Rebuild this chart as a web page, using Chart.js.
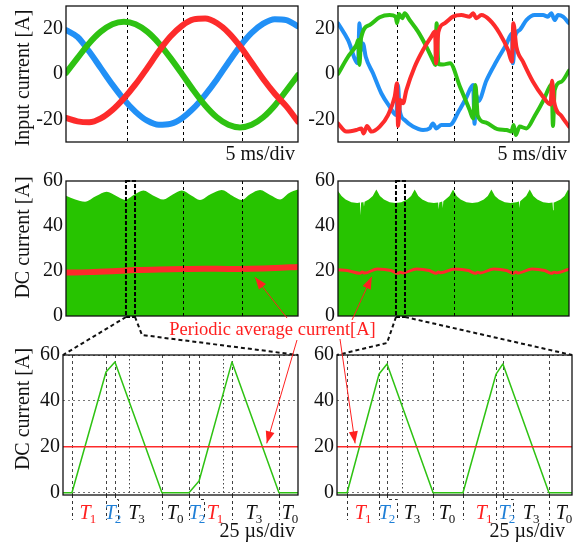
<!DOCTYPE html>
<html>
<head>
<meta charset="utf-8">
<script src="https://cdn.jsdelivr.net/npm/chart.js@4.4.1/dist/chart.umd.min.js"></script>
<style>
html,body{margin:0;padding:0;background:#fff}
body{position:relative;width:576px;height:544px;overflow:hidden}
.cell{position:absolute}
.cell canvas{display:block}
#over{position:absolute;left:0;top:0}
</style>
</head>
<body>
<div class="cell" style="left:0;top:-10px"><canvas id="tl" width="300" height="180"></canvas></div>
<div class="cell" style="left:300px;top:-10px"><canvas id="tr" width="276" height="180"></canvas></div>
<div class="cell" style="left:0;top:165px"><canvas id="ml" width="300" height="175"></canvas></div>
<div class="cell" style="left:300px;top:165px"><canvas id="mr" width="276" height="175"></canvas></div>
<div class="cell" style="left:0;top:339px"><canvas id="bl" width="300" height="205"></canvas></div>
<div class="cell" style="left:300px;top:339px"><canvas id="br" width="276" height="205"></canvas></div>
<canvas id="over" width="576" height="544"></canvas>
<script>
// ---- input currents, left (ms / A) ----
const tlTime  = [0,1,2,3,4,5,6,7,8,9,10,11,12,13,14,15,16,17,18,19,20];
const tlRed   = [-19.4,-20.9,-21.3,-19.6,-15.9,-10.7,-4.5,2.6,10.0,16.5,21.3,24.1,24.5,22.5,18.3,12.3,5.1,-2.2,-8.7,-14.3,-21.0];
const tlGreen = [0.5,7.1,13.6,18.7,22.0,23.1,22.0,18.7,13.6,7.1,0,-7.3,-13.9,-19.1,-22.4,-23.6,-22.4,-19.1,-13.9,-7.3,-0.5];
const tlBlue  = [19.4,16.3,9.9,2.6,-4.7,-11.3,-16.7,-20.6,-22.4,-22.0,-19.5,-15.1,-9.2,-2.4,5.1,12.2,18.1,22.2,24.2,23.8,21.0];
const tlGuides = [5.3, 10.1, 15.2];

// ---- input currents, right ----
const trRedT = [0,0.72,1.59,2.02,2.22,2.51,2.89,3.61,4.33,4.91,5.11,5.2,5.4,5.63,5.92,6.64,7.36,8.08,8.4,8.5,8.69,9.24,9.96,10.68,11.4,11.69,11.98,12.41,13.13,14.0,14.72,15.06,15.18,15.44,16.02,16.88,17.75,18.41,18.53,18.7,19.34,20];
const trRedV = [-21.8,-25.4,-24.7,-24.0,-26.2,-22.9,-25.4,-23.2,-18.1,-10.0,-4.1,-22.9,-11.5,-12.9,-7.1,3.2,10.6,16.5,18.7,4.7,18.5,22.4,25.3,26.0,25.3,26.8,24.6,26.0,23.8,17.9,10.6,5.4,22.4,12.1,5.4,-3.4,-10.0,-13.5,-3.0,-12.0,-18.5,-23.2];
const trGreenT = [0,0.87,1.59,1.76,1.86,1.99,2.74,3.61,4.47,4.99,5.11,5.28,5.57,5.77,6.2,6.93,7.65,8.28,8.43,8.54,8.69,9.09,9.7,10.56,11.4,11.7,11.9,12.1,12.8,13.8,14.6,15.01,15.21,15.38,15.73,16.31,17.03,17.75,18.33,18.5,18.61,18.76,19.34,20];
const trGreenV = [0,7.6,12.8,15.0,4.0,15.7,21.6,25.0,26.0,25.3,22.4,26.5,24.6,26.8,23.8,18.7,12.1,5.4,4.0,22.4,4.4,4.2,4.7,-5.6,-15.9,-19.6,-4.9,-18.4,-21.4,-24.3,-24.7,-25.4,-22.5,-26.9,-23.2,-24.0,-18.5,-12.0,-5.5,-4.5,-22.9,-7.1,-3.4,1.5];
const trBlueT = [0,0.87,1.73,1.86,2.02,2.16,2.4,3.03,3.75,4.47,5.05,5.19,5.34,5.77,6.49,7.36,7.94,8.22,8.51,8.95,9.67,10.5,11.1,11.7,11.82,11.95,12.15,12.84,13.71,14.57,15.06,15.15,15.32,15.73,16.31,17.03,17.75,18.18,18.47,18.76,19.05,19.48,20];
const trBlueV = [22.4,15.0,4.7,22.4,10.6,13.5,7.6,0.3,-8.5,-14.4,-18.1,-4.9,-15.9,-20.3,-23.2,-24.7,-24.0,-21.8,-24.0,-22.5,-22.5,-16.0,-10.5,-4.9,-22.0,-9.0,-12.0,-3.0,5.5,13.0,17.9,4.7,16.5,19.4,23.8,26.0,26.0,25.3,26.8,23.8,26.0,25.3,22.4];
const trGuides = [5.1, 10.0, 15.1];
const topTicks = [-20, 0, 20];

// ---- DC current, middle row (ms / A) ----
const mlEnvT = [0,0.8,1.64,2.6,3.51,4.3,5.09,5.9,6.67,7.5,8.39,9.2,9.97,10.8,11.55,12.5,13.42,14.3,15.15,15.9,16.73,17.6,18.45,19.2,20];
const mlEnvV = [53.5,51.8,50.8,53.3,55.2,53.4,51.6,54.0,55.8,53.6,51.8,54.0,55.8,53.6,51.6,54.2,56.0,53.6,51.6,54.2,56.0,53.8,51.8,54.6,56.2];
const mlAvgT = [0,2,4,6,8,10,12,14,16,18,20];
const mlAvgV = [19.3,19.5,19.9,20.4,20.7,20.9,21.0,20.9,21.0,21.3,21.8];
const mlGuides = [10.1, 15.2];
const mlZoom = [5.17, 5.95];

const mrEnvT = [0,0.31,0.66,1.16,1.66,1.9,1.95,2.0,2.16,2.2,2.25,2.3,2.66,3.01,3.32,3.63,3.98,4.48,4.98,5.48,5.98,6.33,6.64,6.95,7.3,7.8,8.3,8.67,8.72,8.77,9.02,9.07,9.12,9.3,9.65,9.96,10.27,10.62,11.12,11.62,12.12,12.62,12.97,13.28,13.59,13.94,14.44,14.94,15.44,15.67,15.72,15.77,15.94,16.29,16.6,16.91,17.26,17.76,18.26,18.57,18.62,18.67,18.76,19.26,19.61,19.92,20];
const mrEnvV = [55.6,53.3,51.8,50.6,50.2,50.4,44.8,50.4,50.6,50.7,48.6,50.8,51.8,53.3,56.2,53.3,51.8,50.6,50.2,50.6,51.8,53.3,56.2,53.3,51.8,50.6,50.2,50.5,47.5,50.5,50.9,48.0,51.0,51.8,53.3,56.2,53.3,51.8,50.6,50.2,50.6,51.8,53.3,56.2,53.3,51.8,50.6,50.2,50.6,50.9,48.0,51.0,51.8,53.3,56.2,53.3,51.8,50.6,50.2,50.4,47.0,50.5,50.6,51.8,53.3,56.2,55.6];
const mrAvgT = [0,0.8,1.9,2.1,2.3,3.4,4.6,5.2,5.4,5.6,6.8,7.9,8.5,8.7,8.9,10.1,11.3,11.9,12.1,12.3,13.5,14.6,15.2,15.4,15.6,16.8,17.9,18.5,18.7,18.9,20];
const mrAvgV = [20.6,20.2,19.0,19.6,19.1,20.9,20.2,19.0,19.5,19.1,20.9,20.2,19.0,19.6,19.2,20.9,20.2,19.0,19.5,19.1,20.9,20.2,19.0,19.6,19.1,20.9,20.2,19.0,19.5,19.2,20.8];
const mrGuides = [10.0, 15.1];
const mrZoom = [5.02, 5.80];
const midTicks = [0, 20, 40, 60];

// ---- DC current, zoomed (us / A) ----
const blTime = [0,3.8,18.3,22.1,42.1,53.6,57.9,71.9,91.9,100];
const blCurrent = [0,0,52.6,57.0,0,0,5.1,57.0,0,0];
const brTime = [0,4.3,17.9,21.3,40.9,53.6,67.7,70.6,90.2,100];
const brCurrent = [0,0,51.7,56.1,0,0,51.7,56.1,0,0];
const avgTime = [0, 100];
const avgLevel = [20, 20];
const blCuts = [3.8,18.3,42.1,53.6,71.9,91.9];
const blSteps = [[22.1,23.4],[57.9,60.0]];
const blDots = [28.1,68.1];
const brCuts = [4.3,17.9,40.9,53.6,67.7,90.2];
const brSteps = [[21.3,25.5],[70.6,74.9]];
const brDots = [27.7];
const blPhaseAt = [10.6,21.3,31.3,47.7,57.0,64.7,81.2,96.6];
const blPhaseIds = ['1','2','3','0','2','1','3','0'];
const brPhaseAt = [11.1,21.3,31.9,46.8,62.6,72.3,82.6,96.6];
const brPhaseIds = ['1','2','3','0','1','2','3','0'];
const botTicks = [0, 20, 40, 60];

// pointers of the "periodic average" note (data coords of the arrow tips)
const mlPointer = [16.3, 17.2];
const mrPointer = [2.92, 17.4];
const blPointer = [86.7, 21.5];
const brPointer = [7.7, 21.5];

const SERIF = '"Liberation Serif","Times New Roman",serif';
const RED = '#fd2b2b', GREEN = '#2ec212', BLUE = '#2190f6', FILL = '#27c400';
const PHASE_COLOR = {'1': '#ff2020', '2': '#1f7fd6'};

function pts(xs, ys){ return xs.map((x,i)=>({x:x, y:ys[i]})); }

// first dataset in the list ends up on top
function trace(xs, ys, color, width, smooth){
  return {data: pts(xs,ys), borderColor: color, borderWidth: width, pointRadius: 0,
    cubicInterpolationMode: smooth ? 'monotone' : 'default', tension: 0,
    borderJoinStyle: 'round', borderCapStyle: 'round', fill: false};
}

function vseg(ctx, x, y0, y1){
  x = Math.round(x) + 0.5;
  ctx.beginPath(); ctx.moveTo(x, y0); ctx.lineTo(x, y1); ctx.stroke();
}

const decorCfg = {};

function drawGuides(chart, o){
  const {ctx, chartArea: a, scales: {x}} = chart;
  ctx.save();
  ctx.lineWidth = 1;
  ctx.strokeStyle = o.guideColor || '#000';
  ctx.setLineDash([3, 3]);
  (o.guides || []).forEach(t => vseg(ctx, x.getPixelForValue(t), a.top, a.bottom));
  (o.cuts || []).forEach(t => vseg(ctx, x.getPixelForValue(t), a.top, a.bottom));
  (o.steps || []).forEach(s => vseg(ctx, x.getPixelForValue(s[0]), a.top, a.bottom));
  ctx.setLineDash([1.5, 2.5]);
  (o.dots || []).forEach(t => vseg(ctx, x.getPixelForValue(t), a.top, a.bottom));
  ctx.restore();
}

const decor = {
  id: 'decor',
  beforeDatasetsDraw(chart){
    const o = decorCfg[chart.canvas.id];
    if (!o.guidesOver) drawGuides(chart, o);
  },
  afterDatasetsDraw(chart){
    const o = decorCfg[chart.canvas.id];
    const {ctx, chartArea: a, scales: {x}} = chart;
    if (o.guidesOver) drawGuides(chart, o);
    ctx.save();
    // guide lines running on below the axis
    ctx.strokeStyle = '#333'; ctx.lineWidth = 1; ctx.setLineDash([3, 3]);
    (o.cuts || []).forEach(t => vseg(ctx, x.getPixelForValue(t), a.bottom, a.bottom + 25));
    (o.steps || []).forEach(s => {
      const x0 = Math.round(x.getPixelForValue(s[0])) + 0.5, x1 = Math.round(x.getPixelForValue(s[1])) + 0.5;
      const yk = Math.round(a.bottom) + 4.5;
      ctx.beginPath(); ctx.moveTo(x0, a.bottom); ctx.lineTo(x0, yk); ctx.lineTo(x1, yk); ctx.lineTo(x1, a.bottom + 25); ctx.stroke();
    });
    // zoom window
    if (o.zoom){
      ctx.strokeStyle = '#000'; ctx.lineWidth = 2; ctx.setLineDash([4, 2]);
      const x0 = x.getPixelForValue(o.zoom[0]), x1 = x.getPixelForValue(o.zoom[1]);
      ctx.strokeRect(x0, a.top, x1 - x0, a.bottom - a.top + 1);
    }
    ctx.setLineDash([]);
    ctx.strokeStyle = '#111'; ctx.lineWidth = 1.3;
    ctx.strokeRect(a.left, a.top, a.right - a.left, a.bottom - a.top);
    ctx.fillStyle = '#111';
    ctx.font = '20px ' + SERIF;
    if (o.title){
      ctx.save();
      ctx.translate(o.title.x, (a.top + a.bottom) / 2 + o.title.dy);
      ctx.rotate(-Math.PI / 2);
      ctx.textAlign = 'center'; ctx.textBaseline = 'middle';
      ctx.fillText(o.title.text, 0, 0);
      ctx.restore();
    }
    if (o.note){
      ctx.textAlign = 'right'; ctx.textBaseline = 'middle';
      ctx.fillText(o.note.text, a.right + o.note.dx, a.bottom + o.note.dy);
    }
    if (o.phases){
      ctx.textAlign = 'left'; ctx.textBaseline = 'alphabetic';
      o.phases.at.forEach((t, i) => {
        const id = o.phases.ids[i];
        ctx.fillStyle = PHASE_COLOR[id] || '#111';
        ctx.font = 'italic 20px ' + SERIF;
        const wT = ctx.measureText('T').width;
        ctx.font = '13px ' + SERIF;
        const wD = ctx.measureText(id).width;
        const sx = x.getPixelForValue(t) - (wT + wD - 1) / 2, y = a.bottom + 24;
        ctx.font = 'italic 20px ' + SERIF;
        ctx.fillText('T', sx, y);
        ctx.font = '13px ' + SERIF;
        ctx.fillText(id, sx + wT - 1, y + 4);
      });
    }
    ctx.restore();
  }
};

function panel(id, o){
  decorCfg[id] = o.decor;
  return new Chart(document.getElementById(id), {
    type: 'line',
    data: {datasets: o.sets},
    options: {
      responsive: false, animation: false, devicePixelRatio: 1, events: [],
      layout: {padding: o.pad},
      plugins: {legend: {display: false}, tooltip: {enabled: false}},
      scales: {
        x: {type: 'linear', display: false, min: o.xr[0], max: o.xr[1]},
        y: {type: 'linear', min: o.yr[0], max: o.yr[1],
          border: {display: false, dash: [2, 3]},
          grid: {display: !!o.grid, drawTicks: false, color: '#777', lineWidth: 1},
          ticks: {color: '#111', padding: 3, font: {family: SERIF, size: 20}},
          afterBuildTicks: s => { s.ticks = o.ticks.map(v => ({value: v})); },
          afterFit: s => { s.width = o.yw; }}
      }
    },
    plugins: [decor]
  });
}

const tl = panel('tl', {
  sets: [trace(tlTime, tlRed, RED, 6, true), trace(tlTime, tlGreen, GREEN, 6, true), trace(tlTime, tlBlue, BLUE, 6, true)],
  xr: [0, 20], yr: [-30, 30], ticks: topTicks, yw: 66,
  pad: {top: 16, right: 2, bottom: 28, left: 0},
  decor: {guides: tlGuides, title: {text: 'Input current [A]', x: 24, dy: 4}, note: {text: '5 ms/div', dx: -3, dy: 13}}
});
const tr = panel('tr', {
  sets: [trace(trRedT, trRedV, RED, 4, true), trace(trGreenT, trGreenV, GREEN, 4, true), trace(trBlueT, trBlueV, BLUE, 4, true)],
  xr: [0, 20], yr: [-30, 30], ticks: topTicks, yw: 38,
  pad: {top: 16, right: 7, bottom: 28, left: 0},
  decor: {guides: trGuides, note: {text: '5 ms/div', dx: -2, dy: 13}}
});
const ml = panel('ml', {
  sets: [
    trace(mlAvgT, mlAvgV, RED, 6, true),
    {data: pts(mlEnvT, mlEnvV), borderWidth: 0, backgroundColor: FILL, fill: 'origin', pointRadius: 0, cubicInterpolationMode: 'monotone'}],
  xr: [0, 20], yr: [0, 60], ticks: midTicks, yw: 66,
  pad: {top: 16, right: 2, bottom: 24, left: 0},
  decor: {guides: mlGuides, guidesOver: true, zoom: mlZoom, title: {text: 'DC current [A]', x: 24, dy: -11}}
});
const mr = panel('mr', {
  sets: [
    trace(mrAvgT, mrAvgV, RED, 3, true),
    {data: pts(mrEnvT, mrEnvV), borderWidth: 0, backgroundColor: FILL, fill: 'origin', pointRadius: 0, tension: 0}],
  xr: [0, 20], yr: [0, 60], ticks: midTicks, yw: 38,
  pad: {top: 16, right: 7, bottom: 24, left: 0},
  decor: {guides: mrGuides, guidesOver: true, zoom: mrZoom}
});
const bl = panel('bl', {
  sets: [trace(avgTime, avgLevel, RED, 1.5, false), trace(blTime, blCurrent, GREEN, 1.5, false)],
  xr: [0, 100], yr: [-1, 60], ticks: botTicks, yw: 63, grid: true,
  pad: {top: 16, right: 2, bottom: 49, left: 0},
  decor: {guideColor: '#444', cuts: blCuts, steps: blSteps, dots: blDots,
    phases: {at: blPhaseAt, ids: blPhaseIds},
    title: {text: 'DC current [A]', x: 23.5, dy: -16}, note: {text: '25 \u00b5s/div', dx: -3, dy: 37}}
});
const br = panel('br', {
  sets: [trace(avgTime, avgLevel, RED, 1.5, false), trace(brTime, brCurrent, GREEN, 1.5, false)],
  xr: [0, 100], yr: [-1, 60], ticks: botTicks, yw: 37, grid: true,
  pad: {top: 16, right: 4, bottom: 49, left: 0},
  decor: {guideColor: '#444', cuts: brCuts, steps: brSteps, dots: brDots,
    phases: {at: brPhaseAt, ids: brPhaseIds}, note: {text: '25 \u00b5s/div', dx: -7, dy: 37}}
});

// connectors, note and arrows across panels
function overlay(){
  const c = document.getElementById('over').getContext('2d');
  const at = (ch, t, v) => {
    const d = ch.canvas.parentNode;
    return [d.offsetLeft + ch.scales.x.getPixelForValue(t), d.offsetTop + ch.scales.y.getPixelForValue(v)];
  };
  const corner = (ch, right) => {
    const d = ch.canvas.parentNode, a = ch.chartArea;
    return [d.offsetLeft + (right ? a.right : a.left), d.offsetTop + a.top];
  };
  const boxFoot = (ch, t) => {
    const d = ch.canvas.parentNode;
    return [d.offsetLeft + ch.scales.x.getPixelForValue(t), d.offsetTop + ch.chartArea.bottom + 1];
  };
  const poly = ps => { c.beginPath(); c.moveTo(ps[0][0], ps[0][1]); ps.slice(1).forEach(p => c.lineTo(p[0], p[1])); c.stroke(); };

  c.strokeStyle = '#111'; c.lineWidth = 2; c.setLineDash([4, 3]);
  const mlL = boxFoot(ml, mlZoom[0]), mlR = boxFoot(ml, mlZoom[1]);
  const mrL = boxFoot(mr, mrZoom[0]), mrR = boxFoot(mr, mrZoom[1]);
  poly([mlL, corner(bl, false)]);
  poly([mlR, [mlR[0] + 7, 335], corner(bl, true)]);
  poly([mrL, [mrL[0] - 9, 343], corner(br, false)]);
  poly([mrR, corner(br, true)]);
  c.setLineDash([]);

  c.fillStyle = '#ff2020';
  c.font = '18.5px ' + SERIF;
  c.textAlign = 'center'; c.textBaseline = 'middle';
  c.fillText('Periodic average current[A]', 272.5, 330);

  c.strokeStyle = '#ff2020'; c.lineWidth = 1;
  const arrow = (from, to) => {
    c.beginPath(); c.moveTo(from[0], from[1]); c.lineTo(to[0], to[1]); c.stroke();
    const ang = Math.atan2(to[1] - from[1], to[0] - from[0]), L = 12, W = 4.5;
    const bx = to[0] - L * Math.cos(ang), by = to[1] - L * Math.sin(ang);
    c.beginPath(); c.moveTo(to[0], to[1]);
    c.lineTo(bx + W * Math.sin(ang), by - W * Math.cos(ang));
    c.lineTo(bx - W * Math.sin(ang), by + W * Math.cos(ang));
    c.closePath(); c.fill();
  };
  arrow([287, 318], at(ml, mlPointer[0], mlPointer[1]));
  arrow([352, 320], at(mr, mrPointer[0], mrPointer[1]));
  arrow([297, 340], at(bl, blPointer[0], blPointer[1]));
  arrow([340, 339], at(br, brPointer[0], brPointer[1]));
}
overlay();
</script>
</body>
</html>
